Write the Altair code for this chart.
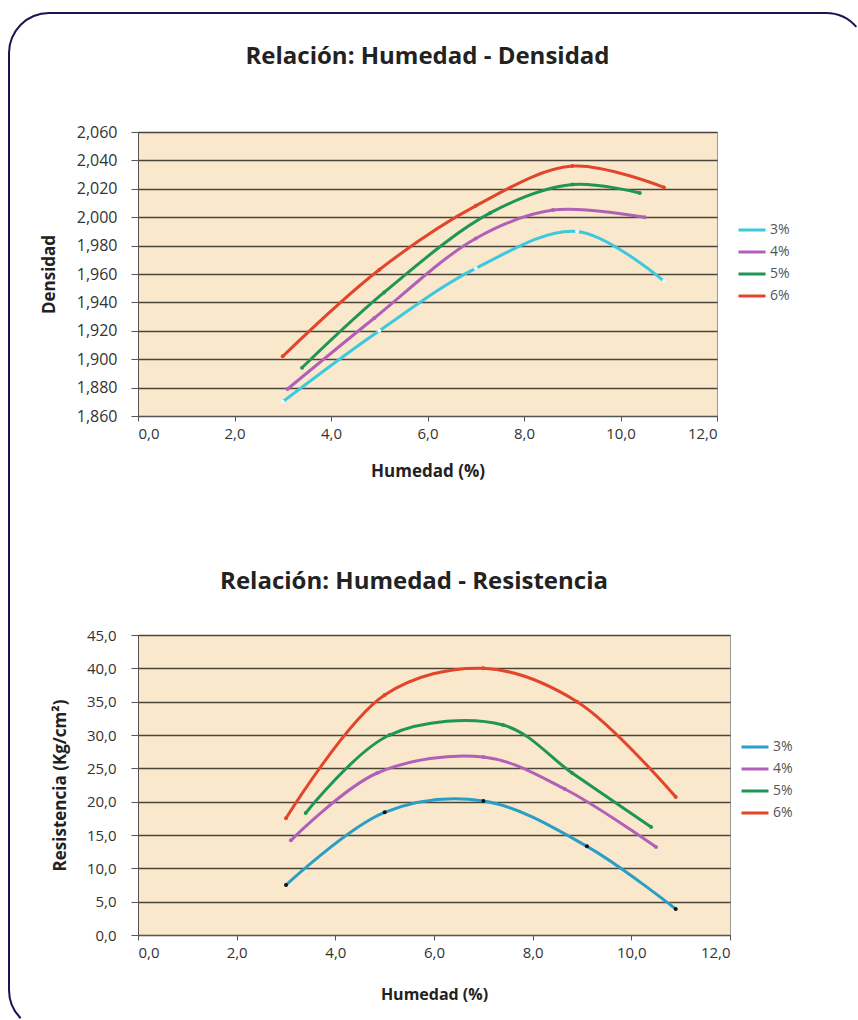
import altair as alt
import pandas as pd

# ---------------- data ----------------
series = ["3%", "4%", "5%", "6%"]

# Humedad - Densidad
hum_d_3 = [3.0, 5.0, 7.0, 9.1, 10.9]
den_3 = [1870, 1920, 1964, 1990, 1955]
hum_d_4 = [3.1, 4.9, 7.0, 8.6, 10.5]
den_4 = [1879, 1929, 1985, 2005, 2000]
hum_d_5 = [3.4, 5.1, 7.3, 9.0, 10.4]
den_5 = [1894, 1947, 2003, 2023, 2017]
hum_d_6 = [3.0, 5.0, 7.0, 9.0, 10.9]
den_6 = [1902, 1963, 2008, 2036, 2021]

# Humedad - Resistencia
hum_r_3 = [3.0, 5.0, 7.0, 9.1, 10.9]
res_3 = [7.5, 18.4, 20.1, 13.3, 3.9]
hum_r_4 = [3.1, 4.85, 7.0, 8.65, 10.5]
res_4 = [14.2, 24.3, 26.7, 21.9, 13.2]
hum_r_5 = [3.4, 5.1, 7.4, 8.8, 10.4]
res_5 = [18.3, 30.0, 31.5, 24.3, 16.2]
hum_r_6 = [3.0, 5.0, 7.0, 8.9, 10.9]
res_6 = [17.5, 36.0, 40.0, 35.0, 20.7]

x_ticks = [0, 2, 4, 6, 8, 10, 12]
y_ticks_d = [1860, 1880, 1900, 1920, 1940, 1960, 1980, 2000, 2020, 2040, 2060]
y_ticks_r = [0, 5, 10, 15, 20, 25, 30, 35, 40, 45]

colors_top = ["#3cc9dd", "#b25fb8", "#1f9556", "#e2452b"]
colors_bot = ["#2a9ec6", "#b25fb8", "#1f9556", "#e2452b"]
points_top = ["#eafcff", "#b25fb8", "#1f9556", "#e2452b"]
points_bot = ["#111111", "#b25fb8", "#1f9556", "#e2452b"]


def long(hs, vs):
    rows = []
    for s, h, v in zip(series, hs, vs):
        for a, b in zip(h, v):
            rows.append({"serie": s, "h": a, "v": b})
    return pd.DataFrame(rows)


df_top = long([hum_d_3, hum_d_4, hum_d_5, hum_d_6], [den_3, den_4, den_5, den_6])
df_bot = long([hum_r_3, hum_r_4, hum_r_5, hum_r_6], [res_3, res_4, res_5, res_6])
frame_df = pd.DataFrame({"k": [0]})

FONT = "Open Sans"
NAVY = "#1b1452"
comma_dec = "replace(format(datum.value, '.1f'), '.', ',')"


def x_axis(title_size, title_pad):
    return alt.Axis(title="Humedad (%)", values=x_ticks, labelExpr=comma_dec,
                    grid=False, tickSize=5, labelFontSize=15, labelColor="#333",
                    labelPadding=5, titleFontSize=title_size, titleFontWeight="bold",
                    titleColor="#222", domainColor="#555", tickColor="#555",
                    titlePadding=title_pad)


def legend(x, y, rowpad):
    return alt.Legend(title=None, orient="none", legendX=x, legendY=y,
                      symbolType="stroke", symbolStrokeWidth=3, symbolSize=729,
                      labelFontSize=14, labelColor="#555", labelFont=FONT,
                      rowPadding=rowpad, labelOffset=3, padding=0)


# ---------------- top chart ----------------
xt = alt.X("h:Q", scale=alt.Scale(domain=[0, 12], nice=False), axis=x_axis(17, 22))
yt = alt.Y("v:Q", scale=alt.Scale(domain=[1860, 2060], nice=False, zero=False),
           axis=alt.Axis(title="Densidad", values=y_ticks_d, format=",d",
                         tickSize=7, labelPadding=14, labelFontSize=16,
                         labelColor="#333", titleFontSize=17,
                         titleFontWeight="bold", titleColor="#222",
                         titlePadding=18, domainColor="#555", tickColor="#555"))

line_top = alt.Chart(df_top).mark_line(interpolate="catmull-rom", strokeWidth=3).encode(
    x=xt, y=yt,
    color=alt.Color("serie:N", scale=alt.Scale(domain=series, range=colors_top),
                    legend=legend(599, 83, -4)),
    detail="serie:N")
pts_top = alt.Chart(df_top).mark_circle(size=16, opacity=1).encode(
    x=xt, y=yt,
    fill=alt.Fill("serie:N", scale=alt.Scale(domain=series, range=points_top), legend=None))

top = alt.layer(line_top, pts_top).properties(
    width=579, height=284,
    title=alt.TitleParams("Relación: Humedad - Densidad", fontSize=24, font=FONT,
                          fontWeight="bold", color="#222", anchor="middle",
                          frame="group", offset=55))

# ---------------- bottom chart ----------------
xb = alt.X("h:Q", scale=alt.Scale(domain=[0, 12], nice=False), axis=x_axis(16, 26))
yb = alt.Y("v:Q", scale=alt.Scale(domain=[0, 45], nice=False),
           axis=alt.Axis(title="Resistencia (Kg/cm²)", values=y_ticks_r,
                         labelExpr=comma_dec, tickSize=7, labelPadding=15,
                         labelFontSize=15, labelColor="#333", titleFontSize=17,
                         titleFontWeight="bold", titleColor="#222",
                         titlePadding=17, domainColor="#555", tickColor="#555"))

line_bot = alt.Chart(df_bot).mark_line(interpolate="catmull-rom", strokeWidth=3).encode(
    x=xb, y=yb,
    color=alt.Color("serie:N", scale=alt.Scale(domain=series, range=colors_bot),
                    legend=legend(602, 97, -7)),
    detail="serie:N")
pts_bot = alt.Chart(df_bot).mark_circle(size=16, opacity=1).encode(
    x=xb, y=yb,
    fill=alt.Fill("serie:N", scale=alt.Scale(domain=series, range=points_bot), legend=None))

bottom = alt.layer(line_bot, pts_bot).properties(
    width=592, height=300,
    title=alt.TitleParams("Relación: Humedad - Resistencia", fontSize=24, font=FONT,
                          fontWeight="bold", color="#222", anchor="middle",
                          frame="group", offset=34, dx=-20))

panels = alt.vconcat(top, bottom, spacing=219, bounds="flush").resolve_scale(
    color="independent", fill="independent")

# ---------------- decorative rounded frame ----------------
# pixel values relative to a 1x1 anchor placed just left of the top plot origin
fr_left = alt.Chart(frame_df).mark_rule(color=NAVY, strokeWidth=2).encode(
    x=alt.value(-128), y=alt.value(-79), y2=alt.value(858))
fr_top = alt.Chart(frame_df).mark_rule(color=NAVY, strokeWidth=2).encode(
    x=alt.value(-88), x2=alt.value(689), y=alt.value(-119))
arc_tl = alt.Chart(frame_df).mark_arc(color=NAVY, innerRadius=39, outerRadius=41,
                                      theta=4.7124, theta2=6.2832).encode(
    x=alt.value(-88), y=alt.value(-79))
arc_tr = alt.Chart(frame_df).mark_arc(color=NAVY, innerRadius=39, outerRadius=41,
                                      theta=0.0, theta2=0.86).encode(
    x=alt.value(689), y=alt.value(-79))
arc_bl = alt.Chart(frame_df).mark_arc(color=NAVY, innerRadius=39, outerRadius=41,
                                      theta=3.93, theta2=4.7124).encode(
    x=alt.value(-88), y=alt.value(858))
frame = alt.layer(fr_left, fr_top, arc_tl, arc_tr, arc_bl).properties(
    width=1, height=1,
    view=alt.ViewBackground(fillOpacity=0, strokeOpacity=0))

chart = alt.hconcat(frame, panels, spacing=0, bounds="flush").properties(
    padding={"left": 8, "top": 12, "right": 0, "bottom": 0},
    background="white",
).configure_view(
    fill="#f9e8cb", stroke="#9a9a9a", strokeWidth=1
).configure_axis(
    labelFont=FONT, titleFont=FONT, gridColor="#4a443a", gridWidth=1.6, gridOpacity=1
)

chart.save("out.html", embed_options={"renderer": "svg", "actions": False})
